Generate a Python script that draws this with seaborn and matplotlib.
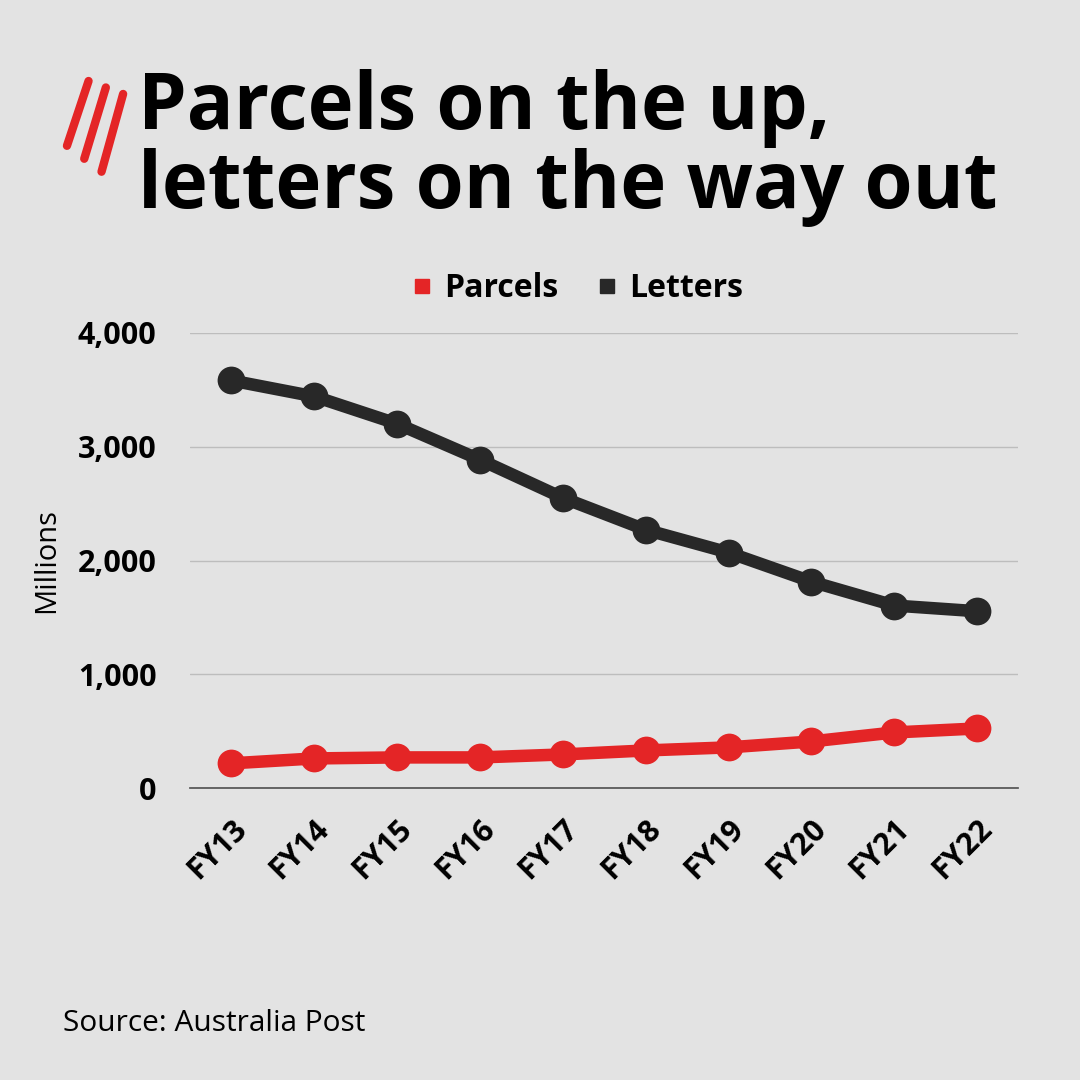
import pandas as pd
import seaborn as sns
import matplotlib.pyplot as plt
from matplotlib.lines import Line2D

years = ["FY13", "FY14", "FY15", "FY16", "FY17", "FY18", "FY19", "FY20", "FY21", "FY22"]
letters = [3580, 3440, 3200, 2885, 2550, 2270, 2070, 1815, 1605, 1555]
parcels = [220, 263, 272, 272, 298, 333, 360, 412, 491, 526]

df = pd.DataFrame({"year": years * 2,
                   "value": letters + parcels,
                   "kind": ["Letters"] * 10 + ["Parcels"] * 10})

bg = "#e3e3e3"
sns.set_theme(style="white")
plt.rcParams['font.family'] = ['Open Sans', 'DejaVu Sans']

fig = plt.figure(figsize=(10.8, 10.8), dpi=100, facecolor=bg)
ax = fig.add_axes([0.176, 0.270, 0.767, 0.422], facecolor=bg)

pal = {"Parcels": "#e42526", "Letters": "#282828"}
sns.lineplot(data=df, x="year", y="value", hue="kind", palette=pal, ax=ax,
             linewidth=9, marker="o", markersize=20, markeredgewidth=0, legend=False, sort=False)

ax.set_ylim(0, 4000)
ax.set_xlim(-0.5, 9.5)
ax.set_yticks([0, 1000, 2000, 3000, 4000])
ax.set_yticklabels(["0", "1,000", "2,000", "3,000", "4,000"], fontsize=22, fontweight="bold", color="black")
ax.set_xticks(range(10))
ax.set_xticklabels(years, rotation=45, ha="right", rotation_mode="anchor", fontsize=22,
                   fontweight="bold", color="black")
ax.tick_params(axis="x", pad=12)
ax.tick_params(axis="y", pad=18)
ax.yaxis.grid(True, color="#bdbdbd", linewidth=1)
ax.set_axisbelow(True)
for s in ["top", "right", "left"]:
    ax.spines[s].set_visible(False)
ax.spines["bottom"].set_color("#555555")
ax.set_xlabel("")
ax.set_ylabel("Millions", fontsize=21, labelpad=12, color="black")

handles = [Line2D([], [], marker="s", linestyle="", color=pal[k], markersize=10) for k in ["Parcels", "Letters"]]
leg = fig.legend(handles, ["Parcels", "Letters"], loc="center", bbox_to_anchor=(0.535, 0.733), ncol=2,
                 frameon=False, prop={"size": 23, "weight": "bold"}, handlelength=0.6,
                 handletextpad=0.4, columnspacing=1.2)
for t in leg.get_texts():
    t.set_color("black")

fig.text(0.128, 0.863, "Parcels on the up,\nletters on the way out", fontsize=56, fontweight="bold",
         color="black", linespacing=1.0, va="center")

# simple logo swooshes
for i, dx in enumerate([0.0, 0.016, 0.032]):
    fig.add_artist(Line2D([0.062 + dx, 0.082 + dx], [0.865 - i * 0.012, 0.925 - i * 0.006],
                          color="#e42526", linewidth=6, solid_capstyle="round"))

fig.text(0.058, 0.045, "Source: Australia Post", fontsize=21.5, color="black")

fig.savefig("out.png", dpi=100, facecolor=bg)
